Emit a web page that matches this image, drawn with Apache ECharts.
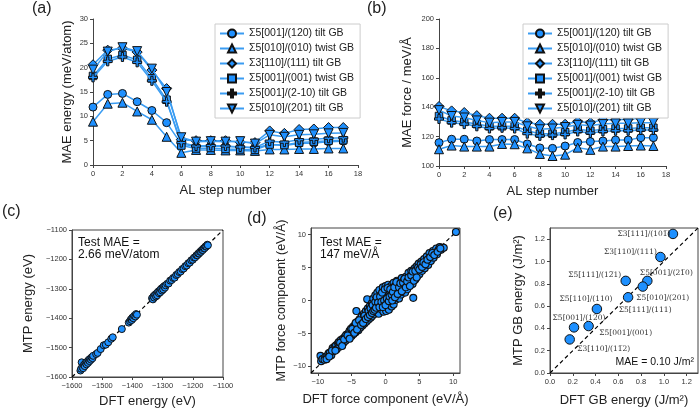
<!DOCTYPE html>
<html><head><meta charset="utf-8">
<script src="https://cdn.jsdelivr.net/npm/echarts@6/dist/echarts.min.js"></script>
<style>html,body{margin:0;padding:0;background:#fff}#c{width:700px;height:411px}</style>
</head><body><div id="c"></div>
<script>
// ---------- DATA ----------
const alSteps = [0,1,2,3,4,5,6,7,8,9,10,11,12,13,14,15,16,17];
const gbNames = ['Σ5[001]/(120) tilt GB','Σ5[010]/(010) twist GB','Σ3[110]/(111) tilt GB','Σ5[001]/(001) twist GB','Σ5[001]/(2-10) tilt GB','Σ5[010]/(201) tilt GB'];

// (a) MAE energy (meV/atom)
const energy120 = [11.9,14.5,14.7,13.0,11.2,8.7,4.3,3.8,3.9,3.8,3.7,3.5,4.2,4.0,4.4,4.5,4.8,4.9];
const energy010 = [8.9,12.6,12.8,11.0,9.3,5.8,2.5,3.1,3.1,3.0,3.0,2.9,3.2,3.2,3.3,3.3,3.4,3.4];
const energy111 = [20.6,23.6,24.0,23.2,19.5,15.7,5.2,5.0,5.0,5.0,4.7,4.6,7.0,6.5,7.3,7.4,7.7,7.7];
const energy001 = [18.3,21.8,22.6,21.6,17.8,13.4,4.0,3.4,3.5,3.3,3.2,3.1,4.2,4.1,4.6,4.8,5.0,5.1];
const energy210 = [18.0,21.3,22.2,21.1,17.3,13.0,4.6,3.9,4.0,3.9,3.7,3.6,4.9,4.7,5.2,5.3,5.5,5.6];
const energy201 = [19.6,23.3,24.2,23.4,19.8,15.0,5.7,4.8,4.9,4.8,4.9,4.4,6.2,5.8,6.2,6.3,6.5,6.6];

// (b) MAE force (meV/Å)
const force120 = [115.9,118.2,118.2,117.0,118.0,118.0,118.0,115.0,112.3,112.0,113.6,116.0,116.6,117.0,117.7,117.7,119.3,119.3];
const force010 = [111.4,113.9,113.2,113.2,113.2,115.0,114.8,112.0,108.2,106.8,107.7,112.5,111.0,113.2,113.2,113.6,113.9,113.6];
const force111 = [140.5,137.5,136.4,134.3,132.5,132.5,132.5,129.5,128.4,128.4,128.4,130.2,129.5,131.4,131.4,131.8,132.5,132.5];
const force001 = [134.0,131.0,130.0,128.5,127.0,127.0,127.0,124.0,122.0,122.0,123.0,125.0,124.0,125.0,125.5,125.5,126.0,126.0];
const force210 = [132.0,129.5,128.5,127.0,125.5,126.0,125.5,122.0,120.5,121.0,121.5,123.5,122.5,123.5,124.0,124.0,124.5,124.5];
const force201 = [138.0,134.0,133.0,131.0,129.5,130.0,130.0,127.0,125.0,125.5,126.5,128.0,127.5,128.5,129.0,129.0,129.5,129.5];

// (c) DFT vs MTP energy (eV)
const energyParity = [
 [-1572,-1578],[-1570,-1572],[-1568,-1550],[-1566,-1566],[-1563,-1570],[-1560,-1558],[-1558,-1563],[-1555,-1552],[-1552,-1557],[-1550,-1548],[-1547,-1552],[-1545,-1542],[-1542,-1546],[-1540,-1538],[-1537,-1541],[-1535,-1533],[-1532,-1536],[-1530,-1528],
 [-1520,-1522],[-1515,-1518],[-1505,-1505],[-1495,-1492],[-1488,-1490],[-1480,-1482],[-1470,-1470],[-1465,-1465],[-1435,-1437],
 [-1412,-1415],[-1408,-1410],[-1405,-1404],[-1402,-1406],[-1400,-1398],[-1397,-1400],[-1394,-1392],[-1390,-1394],[-1388,-1386],[-1385,-1388],
 [-1335,-1332],[-1332,-1336],[-1330,-1325],[-1328,-1330],[-1325,-1320],[-1322,-1326],[-1320,-1316],[-1318,-1322],[-1315,-1310],[-1312,-1315],[-1310,-1306],[-1308,-1312],[-1305,-1300],[-1302,-1306],[-1300,-1296],[-1298,-1302],[-1295,-1291],[-1292,-1296],[-1290,-1288],
 [-1285,-1283],[-1280,-1282],[-1275,-1272],[-1270,-1270],[-1265,-1263],[-1260,-1262],[-1255,-1253],[-1250,-1250],[-1245,-1243],[-1240,-1241],[-1235,-1233],[-1230,-1231],[-1225,-1223],[-1220,-1221],[-1215,-1213],[-1210,-1211],[-1205,-1203],[-1200,-1201],[-1196,-1194],[-1192,-1193],[-1188,-1186],[-1185,-1186],[-1182,-1180],[-1179,-1180],[-1176,-1174],[-1173,-1174],[-1170,-1168],[-1167,-1168],[-1164,-1162],[-1161,-1162],[-1158,-1156],[-1155,-1156],[-1152,-1150],[-1150,-1152]
];

// (d) DFT vs MTP force component (eV/Å)
const forceParity = [
 [-9.6,-8.4],[-9.5,-9.2],[-9.3,-8.9],[-8.9,-8.6],[-8.6,-8.4],[-8.4,-8.0],[-8.2,-7.9],[-8.0,-8.3],[-7.8,-7.2],[-7.7,-7.7],[-7.5,-7.0],[-7.3,-6.8],[-7.2,-7.4],[-7.0,-6.5],
 [-6.9,-6.3],[-6.8,-7.0],[-6.6,-6.0],[-6.5,-6.6],[-6.3,-5.8],[-6.2,-6.4],[-6.0,-5.5],[-5.9,-6.1],[-5.8,-5.2],[-5.7,-5.7],[-5.5,-5.0],[-5.4,-5.6],[-5.3,-4.6],[-5.2,-5.2],[-5.1,-4.3],[-5.0,-5.4],
 [-4.9,-4.8],[-4.8,-4.0],[-4.7,-5.1],[-4.6,-4.4],[-4.5,-3.7],[-4.4,-4.8],[-4.3,-1.6],[-4.2,-3.9],[-4.1,-3.2],[-4.0,-4.5],[-3.9,-3.5],[-3.8,-2.8],[-3.7,-4.1],[-3.6,-3.2],[-3.5,-2.4],[-3.4,-3.8],[-3.3,-2.9],[-3.2,-2.0],[-3.1,-3.5],[-3.0,-2.6],
 [-2.9,-1.6],[-2.8,-3.2],[-2.7,-2.3],[-2.7,0.2],[-2.6,-1.2],[-2.5,-2.9],[-2.4,-2.0],[-2.3,-0.8],[-2.2,-2.6],[-2.1,-1.6],[-2.0,-0.4],[-2.0,-2.4],[-1.9,-1.2],[-1.8,0.3],[-1.7,-2.1],[-1.6,-0.8],[-1.5,0.8],[-1.4,-1.8],[-1.3,-0.4],[-1.2,1.2],[-1.2,-1.5],[-1.1,-0.9],[-1.0,0.4],[-1.0,-2.0],
 [-0.9,1.6],[-0.8,-0.3],[-0.7,-1.3],[-0.6,0.9],[-0.5,-0.6],[-0.4,2.0],[-0.3,-1.7],[-0.3,0.3],[-0.2,1.2],[-0.1,-0.9],[0.0,0.6],[0.0,2.2],[0.1,-1.6],[0.1,-0.2],[0.2,1.4],[0.3,-0.8],[0.4,2.4],[0.4,0.5],[0.5,-1.4],[0.6,1.1],[0.7,-0.2],[0.8,2.2],[0.8,0.5],[0.9,-0.9],[1.0,1.6],
 [1.1,0.2],[1.2,2.7],[1.2,-0.6],[1.3,1.0],[1.4,2.2],[1.5,0.1],[1.6,1.6],[1.7,3.0],[1.7,0.6],[1.8,2.4],[1.9,1.2],[2.0,0.3],[2.1,2.9],[2.2,1.8],[2.3,0.9],[2.4,3.4],[2.5,2.3],[2.6,1.3],[2.7,3.0],[2.8,2.0],[2.9,1.2],[3.0,3.6],
 [3.1,2.5],[3.2,1.7],[3.3,3.2],[3.4,4.2],[3.5,2.4],[3.6,3.6],[3.7,2.9],[3.8,4.5],[3.9,3.3],[4.0,2.5],[4.1,0.4],[4.2,4.0],[4.3,4.9],[4.4,3.2],[4.5,4.2],[4.6,5.2],[4.7,3.7],[4.8,4.6],[4.9,5.6],[5.0,4.0],
 [5.1,5.0],[5.3,5.9],[5.4,4.5],[5.5,5.4],[5.7,6.3],[5.8,4.9],[6.0,5.8],[6.1,6.7],[6.3,5.4],[6.4,6.3],[6.5,7.2],[6.7,6.0],[6.8,6.8],[7.0,7.5],[7.1,6.5],[7.3,7.1],[7.5,7.9],[7.6,7.0],[7.8,7.6],[8.0,8.1],[8.2,7.7],[8.4,8.0],[8.6,8.0],[10.4,10.4],
 [-9.0,-9.0],[-8.7,-8.9],[-8.3,-8.5],[-7.9,-7.6],[-7.4,-7.6],[-6.7,-6.4],[-6.4,-6.9],[-6.1,-5.9],[-5.6,-5.3],[-5.3,-5.8],[-4.9,-4.3],[-4.6,-4.9],[-4.4,-3.4],[-4.2,-4.4],[-3.9,-3.0],[-3.6,-3.7],[-3.3,-3.4],[-3.1,-2.3],[-2.9,-2.8],[-2.6,-2.5],[-2.5,-1.6],[-2.3,-2.2],[-2.2,-1.2],[-2.0,-1.9],[-1.9,-0.7],[-1.8,-1.6],[-1.6,-1.4],[-1.5,-0.2],[-1.4,-1.1],[-1.3,0.5],[-1.1,-0.3],[-0.9,-1.0],[-0.8,0.6],[-0.6,-0.2],[-0.5,1.2],[-0.4,-1.0],[-0.2,0.0],[-0.1,1.7],[0.0,-0.7],[0.2,0.3],[0.3,1.9],[0.5,-0.1],[0.6,0.6],[0.7,1.7],[0.9,0.9],[1.0,0.0],[1.1,1.3],[1.3,2.0],[1.4,0.5],[1.6,2.8],[1.8,1.0],[2.0,2.0],[2.2,2.6],[2.4,1.4],[2.6,2.7],[2.8,3.3],[3.0,2.0],[3.2,2.9],[3.4,3.5],[3.6,2.2],[3.8,3.8],[4.0,4.4],[4.2,3.0],[4.4,4.5],[4.6,3.5],[4.8,5.0],[5.0,4.7],[5.2,5.5],[5.4,5.1],[5.6,5.8],[5.9,5.5],[6.2,6.2],[6.6,6.6],[6.9,7.2],[7.2,6.9],[7.7,7.4],[8.1,7.9]
];

// (e) GB energies (J/m²)
const gbLabels = ['Σ3[111]/(101\u0305)','Σ3[110]/(111)','Σ5[001]/(21\u03050)','Σ5[010]/(201)','Σ5[111]/(12\u03051)','Σ5[111]/(111)','Σ5[110]/(110)','Σ5[001]/(120)','Σ5[001]/(001)','Σ3[110]/(11\u03052)'];
const gbDFT = [1.08,0.97,0.855,0.815,0.665,0.686,0.412,0.211,0.339,0.173];
const gbMTP = [1.247,1.04,0.826,0.775,0.826,0.679,0.574,0.409,0.421,0.301];

// axis tick values
const tickA_x = 2, tickA_y = 5, tickB_y = 20, tickC = 100;
const ticksD = [-10,-5,0,5,10];
const ticksE = [0,0.2,0.4,0.6,0.8,1.0,1.2];
const rangeC = [-1600,-1100], rangeD = [-11,11], rangeE = [0,1.3];

// ---------- STYLE / LAYOUT ----------
const FONT = 'Liberation Sans, Arial, sans-serif';
const LINE_C = '#3a9cf2', FILL_C = '#1e90ff', EDGE_C = '#111';
const symbols = ['circle','triangle','diamond','rect','path://M3,0H5V3H8V5H5V8H3V5H0V3H3Z','path://M0,0L10,0L5,9Z'];
const symSizes = [8,9,10,7.5,9,9];
// label offsets (px) for panel (e): [dx, dy] from point centre
const gbLabelOffsets = [[-29,0],[-30,-5],[19,-8],[20,11],[-31,-6],[17,13],[-11,-10],[5,-9],[37,7],[34,10]];

const minus = v => String(v).replace('-', '\u2212');

function axis(grid, o) {
  return {
    type: 'value', gridIndex: grid, min: o.min, max: o.max, interval: o.interval,
    splitLine: {show: false},
    axisLine: {show: true, onZero: false, lineStyle: {color: '#444', width: 1}},
    axisTick: Object.assign({show: true, length: 3, inside: false, lineStyle: {color: '#444'}}, o.tick || {}),
    axisLabel: Object.assign({fontSize: 7.5, color: '#333', fontFamily: FONT, margin: 5, formatter: o.fmt || minus}, o.label || {}),
    name: o.name, nameLocation: 'middle', nameGap: o.gap,
    nameTextStyle: {fontSize: o.nameSize || 13, color: '#222', fontFamily: FONT}
  };
}

const grids = [
  {left: 93, top: 19, width: 265, height: 146},
  {left: 439, top: 19, width: 227, height: 147},
  {left: 72, top: 230, width: 151, height: 147, show: true, borderColor: '#444', borderWidth: 1},
  {left: 311, top: 228, width: 149, height: 145, show: true, borderColor: '#444', borderWidth: 1},
  {left: 550, top: 228, width: 148, height: 145, show: true, borderColor: '#444', borderWidth: 1}
];

const xAxes = [
  axis(0, {min: 0, max: 18, interval: tickA_x, name: 'AL step number', gap: 19}),
  axis(1, {min: 0, max: 18, interval: tickA_x, name: 'AL step number', gap: 19}),
  axis(2, {min: rangeC[0], max: rangeC[1], interval: tickC, name: 'DFT energy (eV)', gap: 18}),
  axis(3, {min: rangeD[0], max: rangeD[1], name: 'DFT force component (eV/Å)', gap: 20,
           tick: {customValues: ticksD}, label: {customValues: ticksD}}),
  axis(4, {min: rangeE[0], max: rangeE[1], name: 'DFT GB energy (J/m²)', gap: 21,
           tick: {customValues: ticksE}, label: {customValues: ticksE}, fmt: v => v.toFixed(1)})
];
const yAxes = [
  axis(0, {min: 0, max: 30, interval: tickA_y, name: 'MAE energy (meV/atom)', gap: 19}),
  axis(1, {min: 100, max: 200, interval: tickB_y, name: 'MAE force / meV/Å', gap: 25}),
  axis(2, {min: rangeC[0], max: rangeC[1], interval: tickC, name: 'MTP energy (eV)', gap: 37}),
  axis(3, {min: rangeD[0], max: rangeD[1], name: 'MTP force component (eV/Å)', gap: 23, nameSize: 12.5,
           tick: {customValues: ticksD}, label: {customValues: ticksD}}),
  axis(4, {min: rangeE[0], max: rangeE[1], name: 'MTP GB energy (J/m²)', gap: 25,
           tick: {customValues: ticksE}, label: {customValues: ticksE}, fmt: v => v.toFixed(1)})
];

const energySets = [energy120, energy010, energy111, energy001, energy210, energy201];
const forceSets = [force120, force010, force111, force001, force210, force201];

function lineSeries(name, values, i, axisIdx) {
  return {
    type: 'line', name, xAxisIndex: axisIdx, yAxisIndex: axisIdx,
    data: alSteps.map((s, k) => [s, values[k]]),
    symbol: symbols[i], symbolSize: symSizes[i], showSymbol: true,
    lineStyle: {color: LINE_C, width: 1.5},
    itemStyle: {color: FILL_C, borderColor: EDGE_C, borderWidth: 1},
    z: 3 + i * 0.1
  };
}

const series = [];
gbNames.forEach((n, i) => series.push(lineSeries(n, energySets[i], i, 0)));
gbNames.forEach((n, i) => series.push(lineSeries(n, forceSets[i], i, 1)));

function parityLine(axisIdx, range) {
  return {type: 'line', xAxisIndex: axisIdx, yAxisIndex: axisIdx, data: range.map(v => [v, v]),
          symbol: 'none', lineStyle: {color: '#000', width: 1.2, type: [4, 3]}, z: 1, silent: true};
}
series.push(parityLine(2, rangeC));
series.push({type: 'scatter', xAxisIndex: 2, yAxisIndex: 2, data: energyParity, symbolSize: 7,
  itemStyle: {color: FILL_C, borderColor: EDGE_C, borderWidth: 1, opacity: 1}, z: 2});
series.push(parityLine(3, rangeD));
series.push({type: 'scatter', xAxisIndex: 3, yAxisIndex: 3, data: forceParity, symbolSize: 7,
  itemStyle: {color: FILL_C, borderColor: EDGE_C, borderWidth: 1.1, opacity: 1}, z: 2});
series.push(parityLine(4, rangeE));
series.push({type: 'scatter', xAxisIndex: 4, yAxisIndex: 4, symbolSize: 9.5,
  itemStyle: {color: FILL_C, borderColor: EDGE_C, borderWidth: 1, opacity: 1}, z: 2,
  data: gbDFT.map((x, i) => ({value: [x, gbMTP[i]],
    label: {show: true, position: 'inside', offset: gbLabelOffsets[i], formatter: gbLabels[i],
            fontFamily: 'DejaVu Serif', fontSize: 7.5, color: '#333'}}))});

const legendBase = {data: gbNames, orient: 'vertical', itemWidth: 24, itemHeight: 10, itemGap: 4,
  padding: [4, 6, 4, 4], borderColor: '#ccc', borderWidth: 1, backgroundColor: '#fff', selectedMode: false,
  textStyle: {fontSize: 10.5, color: '#222', fontFamily: FONT}};

const titleStyle = {fontSize: 16, fontWeight: 'normal', color: '#222', fontFamily: FONT};
const noteStyle = {fontSize: 12, fontWeight: 'normal', color: '#111', fontFamily: FONT, lineHeight: 12.5};

const chart = echarts.init(document.getElementById('c'), null, {renderer: 'canvas'});
chart.setOption({
  animation: false,
  backgroundColor: '#fff',
  grid: grids, xAxis: xAxes, yAxis: yAxes, series,
  legend: [Object.assign({left: 215, top: 24}, legendBase), Object.assign({left: 523, top: 24}, legendBase)],
  title: [
    {text: '(a)', left: 32, top: 1, textStyle: titleStyle, padding: 0},
    {text: '(b)', left: 367, top: 1, textStyle: titleStyle, padding: 0},
    {text: '(c)', left: 2, top: 204, textStyle: titleStyle, padding: 0},
    {text: '(d)', left: 247, top: 211, textStyle: titleStyle, padding: 0},
    {text: '(e)', left: 493, top: 206, textStyle: titleStyle, padding: 0},
    {text: 'Test MAE =\n2.66 meV/atom', left: 78, top: 236, textStyle: noteStyle, padding: 0},
    {text: 'Test MAE =\n147 meV/Å', left: 320, top: 236, textStyle: noteStyle, padding: 0},
    {text: 'MAE = 0.10 J/m²', right: 6, top: 356, textStyle: Object.assign({}, noteStyle, {fontSize: 10.5}), padding: 0}
  ]
});
</script></body></html>
